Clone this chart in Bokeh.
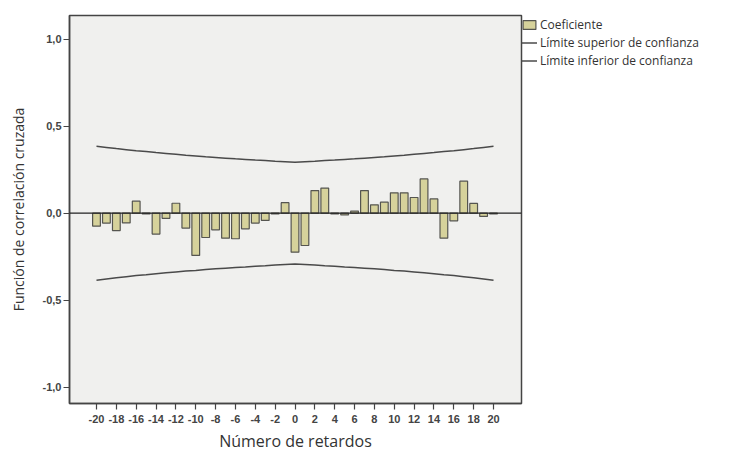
from bokeh.plotting import figure
from bokeh.models import Range1d, FixedTicker, Span, Legend, LegendItem
from bokeh.embed import file_html
from bokeh.resources import INLINE

lags = list(range(-20, 21))
coeficiente = [-0.075, -0.057, -0.100, -0.056, 0.069, -0.005, -0.120, -0.030, 0.057, -0.086,
               -0.243, -0.140, -0.096, -0.144, -0.147, -0.090, -0.057, -0.042, -0.005, 0.060,
               -0.224, -0.186, 0.130, 0.144, -0.005, -0.010, 0.012, 0.130, 0.048, 0.063,
               0.117, 0.117, 0.090, 0.197, 0.082, -0.144, -0.044, 0.184, 0.056, -0.019, -0.005]
limite_sup = [0.385, 0.378, 0.371, 0.365, 0.359, 0.354, 0.348, 0.343, 0.338, 0.333,
              0.329, 0.324, 0.320, 0.316, 0.312, 0.309, 0.305, 0.302, 0.298, 0.295,
              0.292, 0.295, 0.298, 0.302, 0.305, 0.309, 0.312, 0.316, 0.320, 0.324,
              0.329, 0.333, 0.338, 0.343, 0.348, 0.354, 0.359, 0.365, 0.371, 0.378, 0.385]
limite_inf = [-v for v in limite_sup]
y_ticks = [-1.0, -0.5, 0.0, 0.5, 1.0]
y_tick_labels = ["-1,0", "-0,5", "0,0", "0,5", "1,0"]
x_ticks = list(range(-20, 21, 2))
x_tick_labels = [str(t) for t in x_ticks]
series_names = ["Coeficiente", "Límite superior de confianza", "Límite inferior de confianza"]

BAR_FILL = "#D6D29B"
BAR_LINE = "#555550"
LIM_LINE = "#4a4a4a"

p = figure(frame_width=452, frame_height=388, output_backend="svg", toolbar_location=None,
           x_range=Range1d(-22.72, 22.82), y_range=Range1d(-1.094, 1.136),
           min_border_left=69, min_border_right=0, min_border_top=15, min_border_bottom=44)
p.background_fill_color = "#F0F0EE"
p.border_fill_color = "white"
p.outline_line_color = "#444444"
p.outline_line_width = 1.5
p.grid.visible = False

bars = p.vbar(x=lags, top=coeficiente, bottom=0, width=0.78,
              fill_color=BAR_FILL, line_color=BAR_LINE, line_width=1.2)
p.add_layout(Span(location=0, dimension="width", line_color="#222222", line_width=1.2))
up = p.line(lags, limite_sup, line_color=LIM_LINE, line_width=1.5)
lo = p.line(lags, limite_inf, line_color=LIM_LINE, line_width=1.5)

for ax in (p.xaxis[0], p.yaxis[0]):
    ax.axis_line_color = "#444444"
    ax.axis_line_width = 1.5
    ax.major_tick_line_color = "#444444"
    ax.major_tick_line_width = 1.2
    ax.major_tick_in = 0
    ax.major_tick_out = 6
    ax.minor_tick_line_color = None
    ax.major_label_text_font = "Liberation Sans"
    ax.major_label_text_font_style = "bold"
    ax.major_label_text_font_size = "11px"
    ax.major_label_text_color = "#444444"
    ax.axis_label_text_font = "Open Sans"
    ax.axis_label_text_font_style = "normal"
    ax.axis_label_text_color = "#333333"

p.yaxis.ticker = FixedTicker(ticks=y_ticks)
p.yaxis.major_label_overrides = {t: l for t, l in zip(y_ticks, y_tick_labels)}
p.yaxis.axis_label = "Función de correlación cruzada"
p.yaxis.axis_label_text_font_size = "14px"
p.yaxis.axis_label_standoff = 12
p.yaxis.major_label_standoff = 2

p.xaxis.ticker = FixedTicker(ticks=x_ticks)
p.xaxis.major_label_overrides = {t: l for t, l in zip(x_ticks, x_tick_labels)}
p.xaxis.axis_label = "Número de retardos"
p.xaxis.axis_label_text_font_size = "16px"
p.xaxis.axis_label_standoff = 4
p.xaxis.major_label_standoff = 5

legend = Legend(items=[LegendItem(label=series_names[0], renderers=[bars]),
                       LegendItem(label=series_names[1], renderers=[up]),
                       LegendItem(label=series_names[2], renderers=[lo])],
                location="top_left", margin=0, padding=0, spacing=0,
                glyph_width=16, glyph_height=11, label_height=18, label_standoff=3,
                label_text_font="Open Sans", label_text_font_size="12px",
                label_text_color="#333333", border_line_color=None,
                background_fill_alpha=0)
p.add_layout(legend, "right")

open("out.html", "w").write(file_html(p, INLINE))
